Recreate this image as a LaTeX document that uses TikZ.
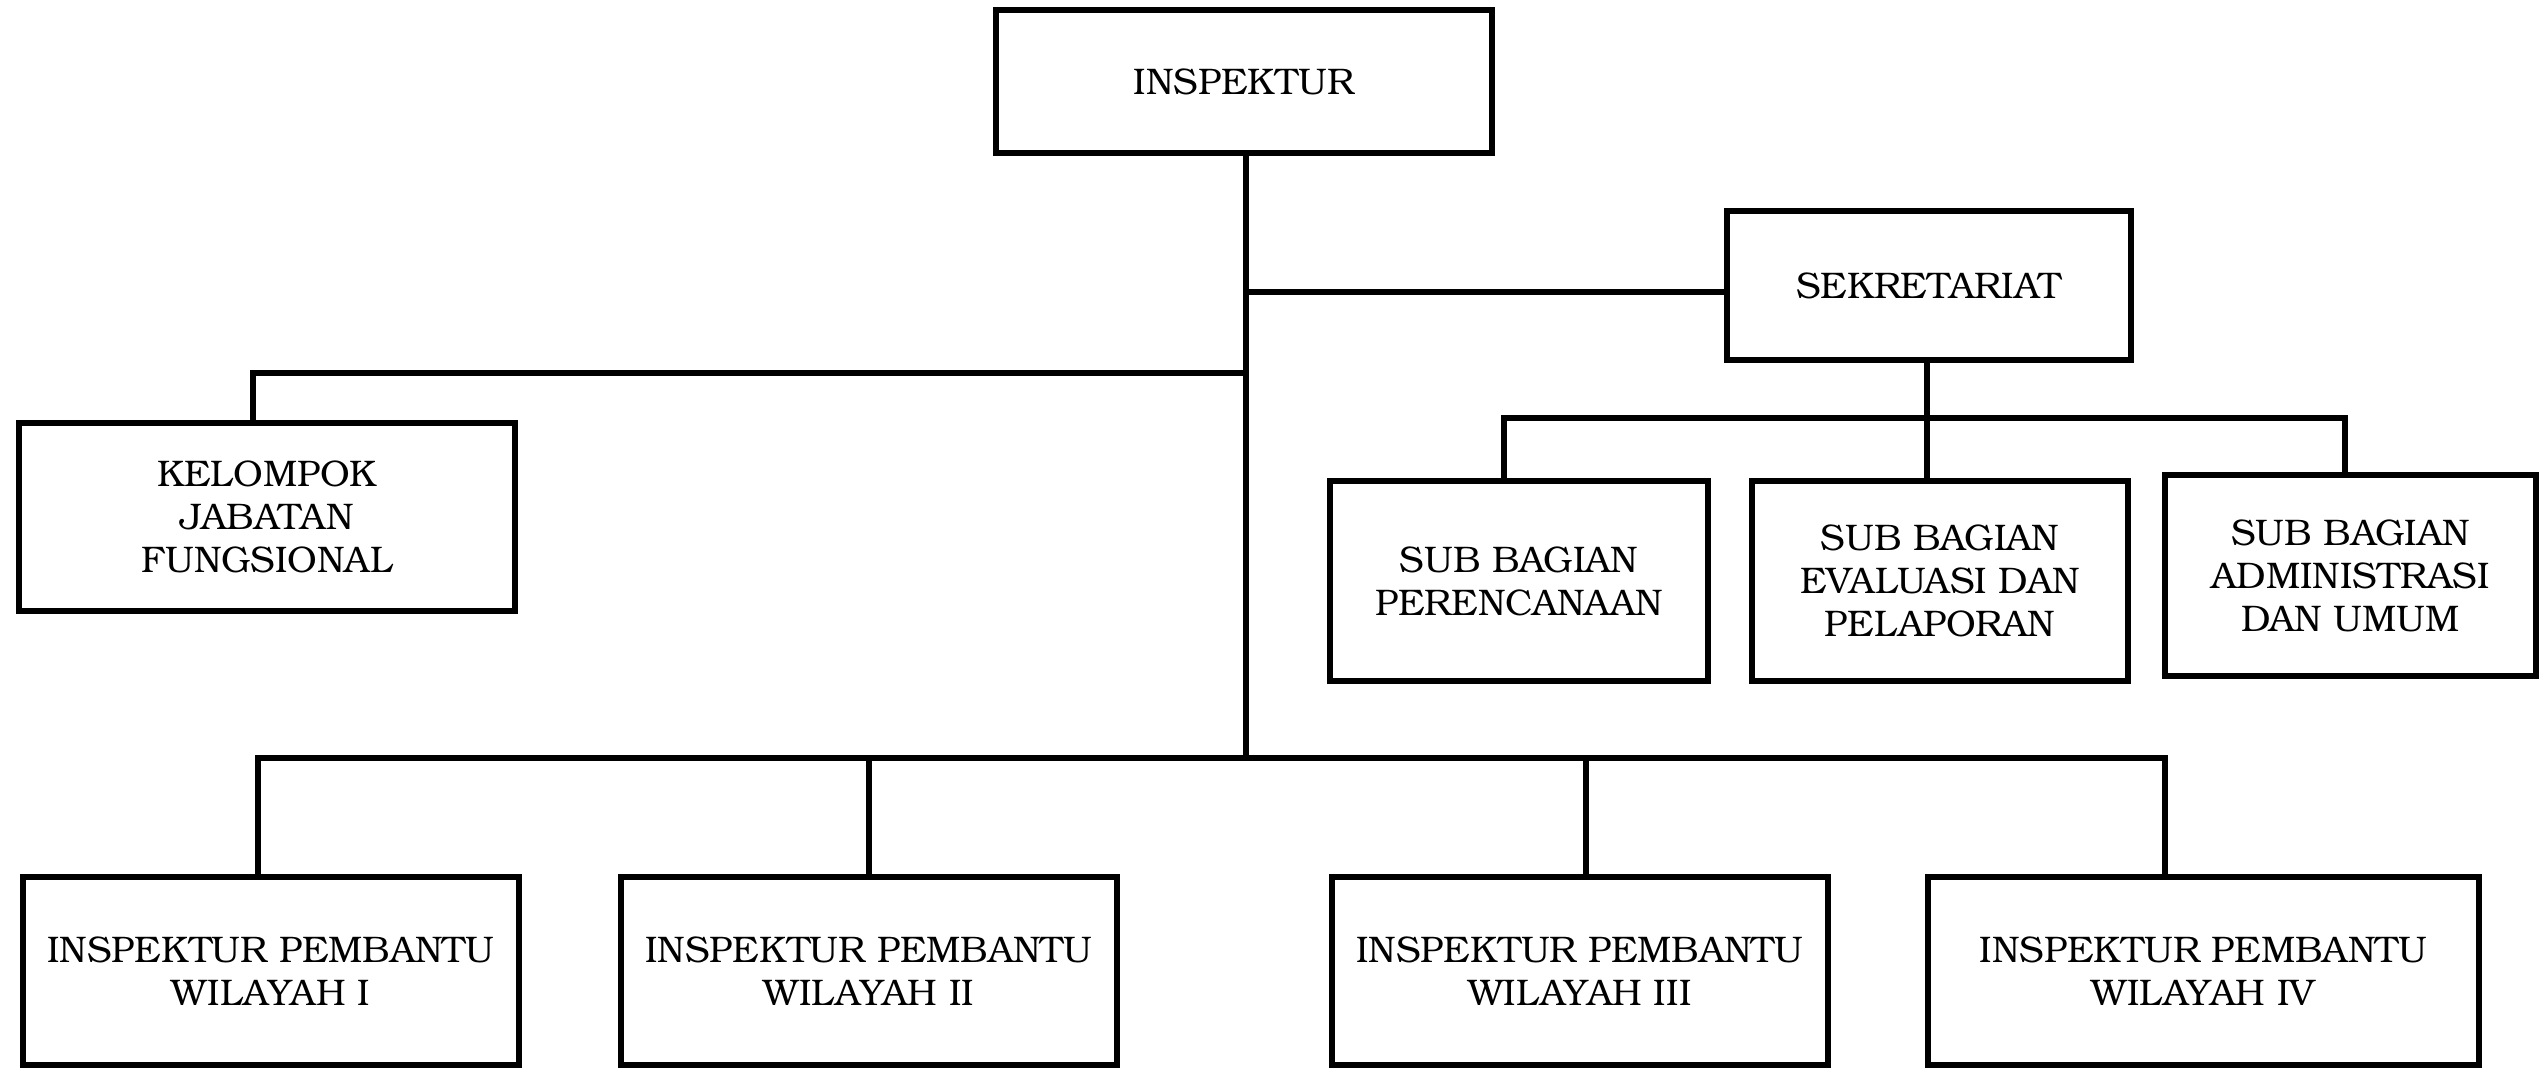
\documentclass[tikz,border=0pt]{standalone}
\usepackage{fontspec}
\setmainfont{TeX Gyre Bonum}
\begin{document}
\begin{tikzpicture}[x=0.3pt,y=-0.3pt,
  box/.style={draw, line width=1.6pt, inner sep=0pt, align=center,
    font=\fontsize{11.1}{12.9}\selectfont},
  conn/.style={line width=1.6pt}]
\useasboundingbox (0,0) rectangle (2541,1067);
% top
\node[box, minimum width=148.8pt, minimum height=42.9pt] (insp) at (1244,81.5) {INSPEKTUR};
\node[box, minimum width=121.2pt, minimum height=44.7pt] (sek) at (1929,285.5) {SEKRETARIAT};
\node[box, minimum width=148.8pt, minimum height=56.4pt] (kel) at (267,517) {KELOMPOK\\JABATAN\\FUNGSIONAL};
% sub bagian
\node[box, minimum width=113.4pt, minimum height=60pt] (sb1) at (1519,581) {SUB BAGIAN\\PERENCANAAN};
\node[box, minimum width=112.8pt, minimum height=60pt] (sb2) at (1940,581) {SUB BAGIAN\\EVALUASI DAN\\PELAPORAN};
\node[box, minimum width=111.3pt, minimum height=60.3pt] (sb3) at (2350.5,575.5) {SUB BAGIAN\\ADMINISTRASI\\DAN UMUM};
% inspektur pembantu
\node[box, minimum width=148.8pt, minimum height=56.4pt] (ip1) at (271,971) {INSPEKTUR PEMBANTU\\WILAYAH I};
\node[box, minimum width=148.8pt, minimum height=56.4pt] (ip2) at (869,971) {INSPEKTUR PEMBANTU\\WILAYAH II};
\node[box, minimum width=148.8pt, minimum height=56.4pt] (ip3) at (1580,971) {INSPEKTUR PEMBANTU\\WILAYAH III};
\node[box, minimum width=165.3pt, minimum height=56.4pt] (ip4) at (2203.5,971) {INSPEKTUR PEMBANTU\\WILAYAH IV};
% connectors
\coordinate (bus) at (1246,758);
\coordinate (kj) at (1246,373);
\coordinate (sbus) at (1927,418);
\draw[conn] (insp.south -| bus) -- (bus);
\draw[conn] ([yshift=-1.95pt]sek.west) -- ([yshift=-1.95pt]sek.west -| bus);
\draw[conn] ([xshift=-4.2pt]kel.north) |- (kj);
\draw[conn] ([xshift=-3.9pt]sb2.north) -- ([xshift=-3.9pt]sb2.north |- sek.south);
\draw[conn] ([xshift=-4.5pt]sb1.north) |- (sbus) -| ([xshift=-1.65pt]sb3.north);
\draw[conn] ([xshift=-3.9pt]ip1.north) |- (bus) -| ([xshift=-11.55pt]ip4.north);
\draw[conn] (ip2.north) -- (ip2.north |- bus);
\draw[conn] ([xshift=1.8pt]ip3.north) -- ([xshift=1.8pt]ip3.north |- bus);
\end{tikzpicture}
\end{document}
